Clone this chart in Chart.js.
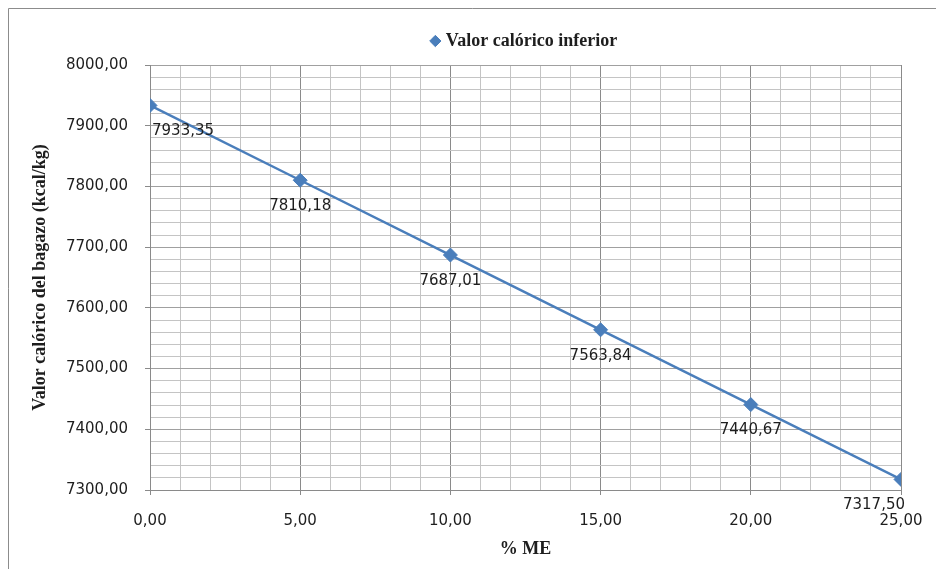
<!DOCTYPE html>
<html>
<head>
<meta charset="utf-8">
<script src="https://cdn.jsdelivr.net/npm/chart.js@4"></script>
<style>
  html, body { margin: 0; padding: 0; background: #ffffff; }
  #wrap { width: 936px; height: 569px; position: relative; }
</style>
</head>
<body>
<div id="wrap"><canvas id="c" width="936" height="569"></canvas></div>
<script>
// % ME (mezcla) and lower calorific value of the bagasse
const pctME = [0, 5, 10, 15, 20, 25];
const valorCalorico = [7933.35, 7810.18, 7687.01, 7563.84, 7440.67, 7317.50];
const seriesName = 'Valor calórico inferior';
const xTitle = '% ME';
const yTitle = 'Valor calórico del bagazo (kcal/kg)';

const BLUE = '#4a7ebb';
const MAJOR = '#8a8a8a';
const MINOR = '#c4c4c4';
const TEXT = '#1e1e1e';

// decimal comma, two places
const fmt = v => Number(v).toFixed(2).replace('.', ',');

// outer frame of the chart object (top and left edges)
const framePlugin = {
  id: 'frame',
  beforeDraw(chart) {
    const ctx = chart.ctx;
    ctx.save();
    ctx.strokeStyle = '#8c8c8c';
    ctx.lineWidth = 1;
    ctx.beginPath();
    ctx.moveTo(8.5, chart.height);
    ctx.lineTo(8.5, 8.5);
    ctx.lineTo(chart.width, 8.5);
    ctx.stroke();
    ctx.restore();
  }
};

// centre the legend above the plot area
const legendPlacePlugin = {
  id: 'legendPlace',
  afterLayout(chart) {
    const lg = chart.legend;
    if (!lg) return;
    const a = chart.chartArea;
    lg.left = a.left;
    lg.right = a.right;
    lg.top -= 5;
    lg.bottom -= 5;
  }
};

// value labels under each point
const valueLabelPlugin = {
  id: 'valueLabels',
  afterDatasetsDraw(chart) {
    const ctx = chart.ctx;
    const a = chart.chartArea;
    const meta = chart.getDatasetMeta(0);
    ctx.save();
    ctx.font = '15px "DejaVu Sans"';
    ctx.fillStyle = TEXT;
    ctx.textAlign = 'left';
    ctx.textBaseline = 'middle';
    meta.data.forEach((pt, i) => {
      const txt = fmt(chart.data.datasets[0].data[i].y);
      const w = ctx.measureText(txt).width;
      let x = pt.x - w / 2;
      if (x < a.left + 2) x = a.left + 2;
      if (x + w > a.right + 4) x = a.right + 4 - w;
      ctx.fillText(txt, x, pt.y + 26);
    });
    ctx.restore();
  }
};

const points = pctME.map((x, i) => ({ x: x, y: valorCalorico[i] }));

new Chart(document.getElementById('c'), {
  type: 'line',
  data: {
    datasets: [{
      label: seriesName,
      data: points,
      borderColor: BLUE,
      backgroundColor: BLUE,
      borderWidth: 2.5,
      pointStyle: 'rectRot',
      pointRadius: 7,
      pointHoverRadius: 7,
      pointBackgroundColor: BLUE,
      pointBorderColor: BLUE,
      pointBorderWidth: 1,
      tension: 0,
      fill: false
    }]
  },
  options: {
    responsive: false,
    animation: false,
    events: [],
    layout: { padding: { top: 27, left: 28, right: 35, bottom: 0 } },
    plugins: {
      tooltip: { enabled: false },
      legend: {
        display: true,
        position: 'top',
        labels: {
          usePointStyle: true,
          pointStyle: 'rectRot',
          boxHeight: 8,
          boxWidth: 3,
          color: TEXT,
          padding: 10,
          font: { family: '"Liberation Serif", "Times New Roman", serif', size: 18, weight: 'bold' }
        }
      }
    },
    scales: {
      x: {
        type: 'linear',
        min: 0,
        max: 25,
        afterFit(s) { s.height = 79; s.paddingLeft = 0; s.paddingRight = 0; },
        border: { display: true, color: MAJOR, width: 1 },
        grid: {
          color: c => (c.tick && c.tick.value % 5 === 0) ? MAJOR : MINOR,
          tickColor: c => (c.tick && c.tick.value % 5 === 0) ? MAJOR : 'rgba(0,0,0,0)',
          tickLength: 5,
          lineWidth: 1
        },
        ticks: {
          stepSize: 1,
          autoSkip: false,
          maxRotation: 0,
          padding: 17,
          color: TEXT,
          font: { family: '"DejaVu Sans"', size: 15 },
          callback: v => (v % 5 === 0 ? fmt(v) : '')
        },
        title: {
          display: true,
          text: xTitle,
          color: TEXT,
          padding: { top: 0, bottom: 9 },
          font: { family: '"Liberation Serif", "Times New Roman", serif', size: 18, weight: 'bold' }
        }
      },
      y: {
        type: 'linear',
        min: 7300,
        max: 8000,
        afterFit(s) { s.width = 122; s.paddingTop = 0; s.paddingBottom = 0; },
        border: { display: true, color: MAJOR, width: 1 },
        grid: {
          color: c => (c.tick && Math.abs(c.tick.value % 100) < 1e-6) ? '#a0a0a0' : MINOR,
          tickColor: c => (c.tick && Math.abs(c.tick.value % 100) < 1e-6) ? MAJOR : 'rgba(0,0,0,0)',
          tickLength: 5,
          lineWidth: 1
        },
        ticks: {
          stepSize: 20,
          autoSkip: false,
          padding: 17,
          color: TEXT,
          font: { family: '"DejaVu Sans"', size: 15 },
          callback: v => (Math.abs(v % 100) < 1e-6 ? fmt(v) : '')
        },
        title: {
          display: true,
          text: yTitle,
          color: TEXT,
          padding: { top: 2, bottom: 0 },
          font: { family: '"Liberation Serif", "Times New Roman", serif', size: 18, weight: 'bold' }
        }
      }
    }
  },
  plugins: [framePlugin, legendPlacePlugin, valueLabelPlugin]
});
</script>
</body>
</html>
